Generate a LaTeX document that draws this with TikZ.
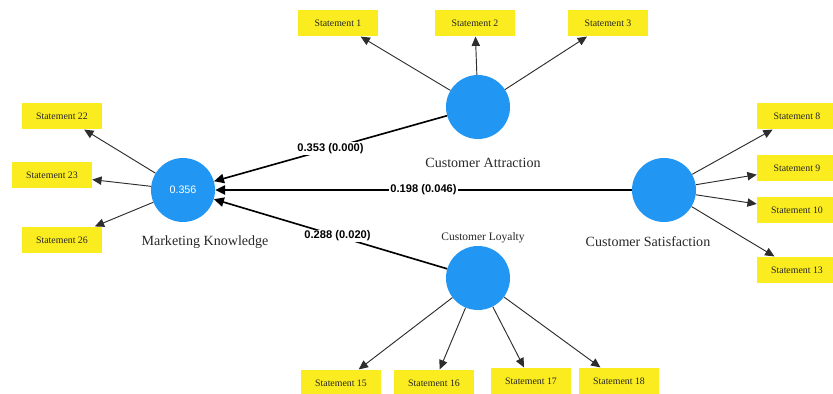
\documentclass[tikz,border=0pt]{standalone}
\usepackage{fontspec}
\setmainfont{Liberation Serif}
\setsansfont{Liberation Sans}
\usetikzlibrary{arrows.meta}
\definecolor{lvblue}{RGB}{33,150,243}
\definecolor{indyel}{RGB}{250,236,30}
\definecolor{loadg}{RGB}{45,45,45}
\definecolor{txtg}{RGB}{40,40,40}

\begin{document}
\begin{tikzpicture}[
  x=0.03cm, y=-0.03cm,
  lv/.style={circle, fill=lvblue, minimum size=1.92cm, inner sep=0pt},
  ind/.style={fill=indyel, minimum width=2.4cm, minimum height=0.8cm,
              inner sep=1pt, text=black!85, font=\fontsize{8.4}{10}\selectfont},
  load/.style={-{Triangle[length=2.8mm,width=2.5mm]}, thick, color=loadg},
  struct/.style={-{Triangle[length=3mm,width=2.8mm]}, line width=1.4pt},
  lbl/.style={text=txtg, font=\fontsize{12}{14}\selectfont},
  coef/.style={fill=white, inner sep=1pt,
               font=\sffamily\bfseries\fontsize{9.5}{11}\selectfont},
]
\useasboundingbox (0,0) rectangle (833,394);

% ---------- latent variables ----------
\node[lv, text=white, font=\sffamily\fontsize{9.2}{11}\selectfont] (mk) at (183,190) {0.356};
\node[lv] (ca) at (478,107) {};
\node[lv] (cs) at (664,190) {};
\node[lv] (cl) at (478,278) {};

\node[lbl] (mkl) at (205,242) {Marketing Knowledge};
\node[lbl] (cal) at (483,163) {Customer Attraction};
\node[lbl] (csl) at (648,242) {Customer Satisfaction};
\node[lbl, font=\fontsize{9.8}{12}\selectfont] (cll) at (483,238) {Customer Loyalty};

% ---------- indicators ----------
\node[ind] (s22) at (62,116) {Statement 22};
\node[ind] (s23) at (52,175) {Statement 23};
\node[ind] (s26) at (62,240) {Statement 26};

\node[ind] (s1) at (338,23) {Statement 1};
\node[ind] (s2) at (475,23) {Statement 2};
\node[ind] (s3) at (608,23) {Statement 3};

\node[ind] (s8) at (797,116) {Statement 8};
\node[ind] (s9) at (797,168) {Statement 9};
\node[ind] (s10) at (797,210) {Statement 10};
\node[ind] (s13) at (797,270) {Statement 13};

\node[ind] (s15) at (341,383) {Statement 15};
\node[ind] (s16) at (434,383) {Statement 16};
\node[ind] (s17) at (531,381) {Statement 17};
\node[ind] (s18) at (619,381) {Statement 18};

% ---------- outer loadings ----------
\foreach \s in {s22,s23,s26} \draw[load] (mk) -- (\s);
\foreach \s in {s1,s2,s3} \draw[load] (ca) -- (\s);
\foreach \s in {s8,s9,s10,s13} \draw[load] (cs) -- (\s);
\foreach \s in {s15,s16,s17,s18} \draw[load] (cl) -- (\s);

% ---------- structural paths ----------
\draw[struct] (ca) -- node[coef] (p1) {0.353 (0.000)} (mk);
\draw[struct] (cs) -- node[coef] (p2) {0.198 (0.046)} (mk);
\draw[struct] (cl) -- node[coef, pos=0.47] (p3) {0.288 (0.020)} (mk);

\end{tikzpicture}
\end{document}
